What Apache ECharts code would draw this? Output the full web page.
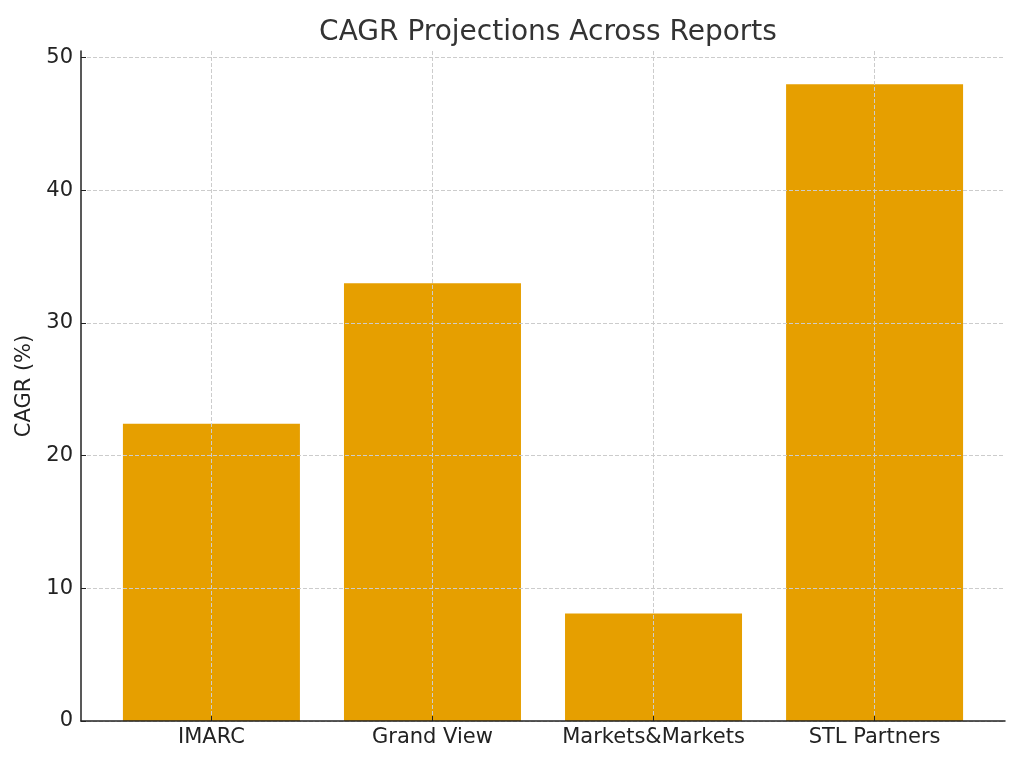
<!DOCTYPE html>
<html>
<head>
<meta charset="utf-8">
<script src="https://cdn.jsdelivr.net/npm/echarts@6/dist/echarts.min.js"></script>
<style>
  html, body { margin: 0; padding: 0; background: #fff; }
  #chart { width: 1024px; height: 768px; }
</style>
</head>
<body>
<div id="chart"></div>
<script>
const categories = ['IMARC', 'Grand View', 'Markets&Markets', 'STL Partners'];
const cagrValues = [22.4, 33, 8.1, 48];
const yTicks = [0, 10, 20, 30, 40, 50];

const chart = echarts.init(document.getElementById('chart'));
const font = 'DejaVu Sans';

chart.setOption({
    animation: false,
    title: {
        text: 'CAGR Projections Across Reports',
        left: 543,
        top: 14,
        textAlign: 'center',
        textStyle: { fontFamily: font, fontSize: 28, fontWeight: 'normal', color: '#333' }
    },
    grid: { left: 81, right: 19, top: 51, bottom: 47 },
    xAxis: {
        type: 'value',
        min: -0.59,
        max: 3.59,
        z: 3,
        axisLine: { show: true, onZero: false, lineStyle: { color: '#222', width: 1.5 } },
        axisTick: { show: true, inside: true, length: 5, customValues: [0, 1, 2, 3], lineStyle: { color: '#222' } },
        axisLabel: {
            customValues: [0, 1, 2, 3],
            formatter: v => categories[Math.round(v)],
            fontFamily: font, fontSize: 21, color: '#222', margin: 6
        },
        splitLine: { show: true, lineStyle: { color: '#ccc', type: 'dashed', width: 1 } }
    },
    yAxis: {
        type: 'value',
        min: 0,
        max: 50.5,
        z: 3,
        name: 'CAGR (%)',
        nameLocation: 'middle',
        nameGap: 42,
        nameTextStyle: { fontFamily: font, fontSize: 21, color: '#222' },
        axisLine: { show: true, onZero: false, lineStyle: { color: '#222', width: 1.5 } },
        axisTick: { show: true, inside: true, length: 5, customValues: yTicks, lineStyle: { color: '#222' } },
        axisLabel: { customValues: yTicks, fontFamily: font, fontSize: 21, color: '#222', margin: 8 },
        splitLine: { show: true, lineStyle: { color: '#ccc', type: 'dashed', width: 1 } }
    },
    series: [{
        type: 'bar',
        barWidth: 177,
        itemStyle: { color: '#E69F00' },
        data: cagrValues.map((v, i) => [i, v])
    }]
});
</script>
</body>
</html>
